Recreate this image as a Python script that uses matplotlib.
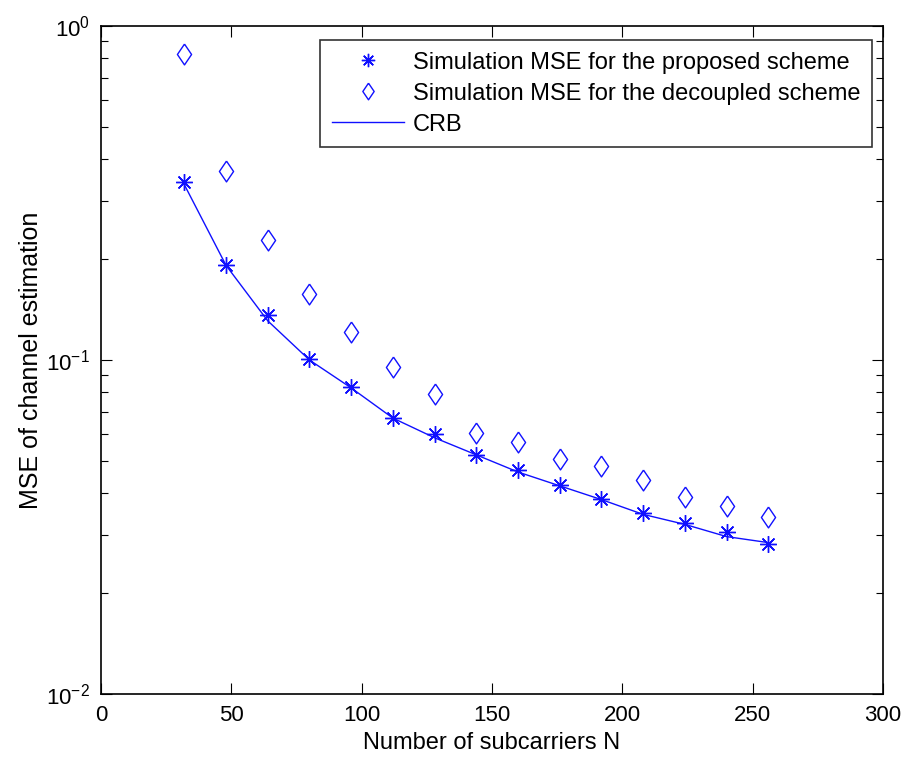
import matplotlib.pyplot as plt
from matplotlib.ticker import LogLocator, NullFormatter

plt.rcParams['font.family'] = ['Liberation Sans', 'DejaVu Sans']
plt.rcParams['mathtext.fontset'] = 'custom'
plt.rcParams['mathtext.rm'] = 'Liberation Sans'

# number of subcarriers
N = [32, 48, 64, 80, 96, 112, 128, 144, 160, 176, 192, 208, 224, 240, 256]

mse_proposed = [0.340, 0.193, 0.136, 0.101, 0.0828, 0.0669, 0.0600, 0.0520, 0.0469,
                0.0421, 0.0383, 0.0348, 0.0326, 0.0305, 0.0282]
mse_decoupled = [0.824, 0.368, 0.229, 0.158, 0.1215, 0.0956, 0.0789, 0.0606, 0.0568,
                 0.0504, 0.0482, 0.0437, 0.0388, 0.0365, 0.0339]
crb = [0.335, 0.192, 0.131, 0.100, 0.0825, 0.0670, 0.0585, 0.0520, 0.0462,
       0.0420, 0.0382, 0.0345, 0.0322, 0.0296, 0.0284]

# matlab style markers: 8-arm asterisk and a narrow diamond
asterisk = (8, 2, 0)
diamond = [(0, 1), (0.68, 0), (0, -1), (-0.68, 0), (0, 1)]

fig = plt.figure(figsize=(9.09, 7.64), dpi=100)
ax = fig.add_axes([0.111, 0.0916, 0.8604, 0.8744])

ax.semilogy(N, mse_proposed, linestyle='none', marker=asterisk, color='#1010ff',
            markersize=12, markeredgewidth=1.0,
            label='Simulation MSE for the proposed scheme')
ax.semilogy(N, mse_decoupled, linestyle='none', marker=diamond, color='#1010ff',
            markerfacecolor='none', markersize=15, markeredgewidth=1.0,
            label='Simulation MSE for the decoupled scheme')
ax.semilogy(N, crb, '-', color='#1010ff', linewidth=1.0, label='CRB')

ax.set_xlim(0, 300)
ax.set_ylim(1e-2, 1e0)
ax.set_xticks([0, 50, 100, 150, 200, 250, 300])
ax.yaxis.set_major_locator(LogLocator(base=10, numticks=5))
ax.yaxis.set_minor_locator(LogLocator(base=10, subs=range(2, 10), numticks=20))
ax.yaxis.set_minor_formatter(NullFormatter())

ax.tick_params(which='both', direction='in', top=True, right=True, labelsize=16)
ax.tick_params(which='major', length=8, width=0.8, pad=8)
ax.tick_params(which='minor', length=5, width=0.8)
for s in ax.spines.values():
    s.set_linewidth(1.2)

ax.set_xlabel('Number of subcarriers N', fontsize=17, labelpad=4)
ax.set_ylabel('MSE of channel estimation', fontsize=18, labelpad=2)

leg = ax.legend(loc='upper right', fontsize=17, frameon=True, fancybox=False,
                edgecolor='black', bbox_to_anchor=(1.0, 0.995),
                borderaxespad=0.45, handlelength=3.05, handletextpad=0.38,
                labelspacing=0.38, borderpad=0.5, markerscale=0.8)
leg.get_frame().set_linewidth(1.2)

fig.savefig('out.png', dpi=100)
